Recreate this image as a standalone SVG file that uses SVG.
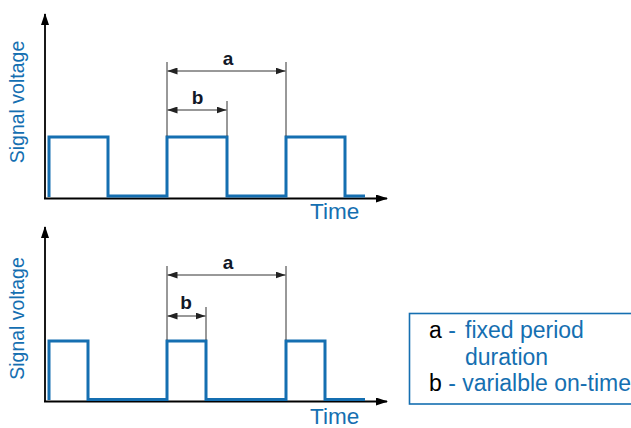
<svg xmlns="http://www.w3.org/2000/svg" width="631" height="428" viewBox="0 0 631 428">
<defs>
<style>
.axis{stroke:#000;stroke-width:1.8;fill:none}
.sig{stroke:#156fb1;stroke-width:3;fill:none;stroke-linejoin:miter}
.dim{stroke:#333;stroke-width:1;fill:none}
.ylab{font-family:"Liberation Sans",Arial,sans-serif;font-size:19.5px;fill:#156fb1}
.time{font-family:"Liberation Sans",Arial,sans-serif;font-size:22.5px;fill:#156fb1}
.dl{font-family:"Liberation Sans",Arial,sans-serif;font-size:19px;font-weight:bold;fill:#111827;text-anchor:middle}
.leg{font-family:"Liberation Sans",Arial,sans-serif;font-size:23px;fill:#156fb1}
.legk{fill:#000}
</style>
<marker id="ax" viewBox="0 0 12 8" refX="11" refY="4" markerWidth="12" markerHeight="8" markerUnits="userSpaceOnUse" orient="auto">
<path d="M0,0 L12,4 L0,8 Z" fill="#000"/>
</marker>
<marker id="dh" viewBox="0 0 10 7" refX="10" refY="3.5" markerWidth="10" markerHeight="7" markerUnits="userSpaceOnUse" orient="auto-start-reverse">
<path d="M0,0 L10,3.5 L0,7 Z" fill="#222"/>
</marker>
</defs>
<rect width="631" height="428" fill="#fff"/>

<g id="chart-top">
<line class="axis" x1="45" y1="199" x2="45" y2="14" marker-end="url(#ax)"/>
<line class="axis" x1="44" y1="198.5" x2="387" y2="198.5" marker-end="url(#ax)"/>
<path class="sig" d="M49,197 V137 H108 V196 H167 V137 H227 V196 H286 V137 H345 V196 H365"/>
<text class="ylab" transform="translate(24,102) rotate(-90)" text-anchor="middle">Signal voltage</text>
<text class="time" x="310" y="219">Time</text>
</g>

<g id="chart-bottom">
<line class="axis" x1="45" y1="402" x2="45" y2="227" marker-end="url(#ax)"/>
<line class="axis" x1="44" y1="401.5" x2="387" y2="401.5" marker-end="url(#ax)"/>
<path class="sig" d="M49,400 V341 H88 V399.5 H167 V341 H206 V399.5 H286 V341 H325 V399.5 H365"/>
<text class="ylab" transform="translate(24,318.5) rotate(-90)" text-anchor="middle">Signal voltage</text>
<text class="time" x="310" y="424">Time</text>
</g>

<g id="connectors">
<line class="dim" x1="167" y1="62" x2="167" y2="136"/>
<line class="dim" x1="286" y1="62" x2="286" y2="136"/>
<line class="dim" x1="227" y1="101" x2="227" y2="136"/>
<line class="dim" x1="167.5" y1="71" x2="285.5" y2="71" marker-start="url(#dh)" marker-end="url(#dh)"/>
<line class="dim" x1="167.5" y1="110" x2="226.5" y2="110" marker-start="url(#dh)" marker-end="url(#dh)"/>

<line class="dim" x1="167" y1="266" x2="167" y2="340"/>
<line class="dim" x1="286" y1="266" x2="286" y2="340"/>
<line class="dim" x1="206" y1="307" x2="206" y2="340"/>
<line class="dim" x1="167.5" y1="275" x2="285.5" y2="275" marker-start="url(#dh)" marker-end="url(#dh)"/>
<line class="dim" x1="167.5" y1="316" x2="205.5" y2="316" marker-start="url(#dh)" marker-end="url(#dh)"/>
</g>

<g id="labels">
<text class="dl" x="228" y="65">a</text>
<text class="dl" x="197.5" y="104">b</text>
<text class="dl" x="228" y="269">a</text>
<text class="dl" x="186" y="309">b</text>
</g>

<g id="legend">
<rect x="409.5" y="313.5" width="240" height="90.5" fill="none" stroke="#156fb1" stroke-width="1.6"/>
<text class="leg" x="429" y="338"><tspan class="legk">a</tspan> -</text>
<text class="leg" x="465" y="338">fixed period</text>
<text class="leg" x="465" y="365">duration</text>
<text class="leg" x="429" y="391"><tspan class="legk">b</tspan> - varialble on-time</text>
</g>
</svg>
